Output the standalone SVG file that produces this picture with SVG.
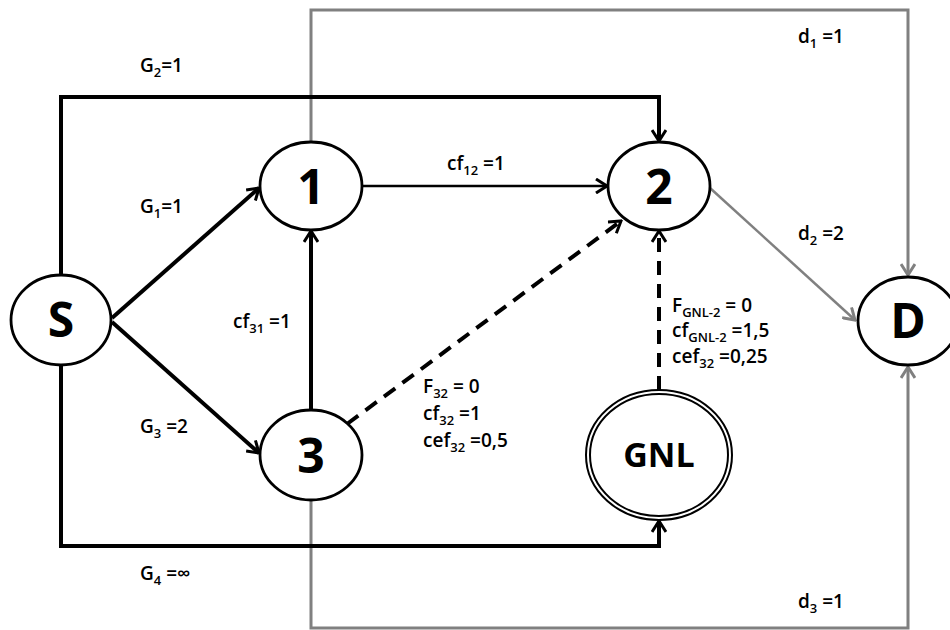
<svg xmlns="http://www.w3.org/2000/svg" width="950" height="630" viewBox="0 0 950 630">
<style>
.node{fill:#fff;stroke:#000;stroke-width:2.8}
.gnl{fill:none;stroke:#000;stroke-width:2}
.nl{font-family:"Open Sans","Liberation Sans",sans-serif;font-weight:700;font-size:48px;fill:#000;text-anchor:middle}
.lb{font-family:"Open Sans","Liberation Sans",sans-serif;font-weight:600;font-size:19px;fill:#000}
.sb{font-size:13px}
.blk{fill:none;stroke:#000;stroke-width:4;marker-end:url(#ab)}
.thin{fill:none;stroke:#000;stroke-width:2.5;marker-end:url(#ab)}
.dash{fill:none;stroke:#000;stroke-width:4;stroke-dasharray:14 9;marker-end:url(#ab)}
.gry{fill:none;stroke:#808080;stroke-width:3;marker-end:url(#ag)}
.gthin{fill:none;stroke:#808080;stroke-width:2.5;marker-end:url(#ag)}
</style>
<defs>
<marker id="ab" markerUnits="userSpaceOnUse" viewBox="0 0 14 16" refX="12" refY="8" markerWidth="14" markerHeight="16" orient="auto">
<path d="M1,1 L12,8 L1,15" fill="none" stroke="#000" stroke-width="3"/>
</marker>
<marker id="ag" markerUnits="userSpaceOnUse" viewBox="0 0 14 16" refX="12" refY="8" markerWidth="14" markerHeight="16" orient="auto">
<path d="M1,1 L12,8 L1,15" fill="none" stroke="#808080" stroke-width="3"/>
</marker>
</defs>
<rect width="950" height="630" fill="#fff"/>
<g id="connectors">
<path class="gry" d="M311,142 V10 H908 V275"/>
<path class="gry" d="M311,500 V628 H908 V367"/>
<path class="gthin" d="M710,188 L855,320"/>
<path class="blk" d="M61,275 V97 H659 V141"/>
<path class="blk" d="M61,365 V546 H659 V521"/>
<path class="blk" d="M112,318 L259,188"/>
<path class="blk" d="M112,322 L259,453"/>
<path class="blk" d="M311,410 V231"/>
<path class="thin" d="M362,186 H607"/>
<path class="dash" d="M347,424 L621,221"/>
<path class="dash" d="M659,390 V231"/>
</g>
<g id="node-S"><ellipse class="node" cx="61" cy="320" rx="50" ry="45"/><text class="nl" x="61" y="337">S</text></g>
<g id="node-1"><ellipse class="node" cx="311" cy="186" rx="51" ry="44"/><text class="nl" x="311" y="204">1</text></g>
<g id="node-2"><ellipse class="node" cx="659" cy="186" rx="51" ry="44"/><text class="nl" x="659" y="204">2</text></g>
<g id="node-3"><ellipse class="node" cx="311" cy="455" rx="51" ry="45"/><text class="nl" x="311" y="473">3</text></g>
<g id="node-D"><ellipse class="node" cx="908" cy="321" rx="50" ry="44"/><text class="nl" x="908" y="338">D</text></g>
<g id="node-GNL"><ellipse class="gnl" cx="659" cy="455" rx="73" ry="65"/><ellipse class="gnl" cx="659" cy="455" rx="69" ry="61"/><text class="nl" x="659" y="467" style="font-size:34px">GNL</text></g>
<g id="labels">
<text class="lb" x="140" y="72">G<tspan class="sb" dy="5">2</tspan><tspan dy="-5">=1</tspan></text>
<text class="lb" x="140" y="213">G<tspan class="sb" dy="5">1</tspan><tspan dy="-5">=1</tspan></text>
<text class="lb" x="140" y="433">G<tspan class="sb" dy="5">3</tspan><tspan dy="-5"> =2</tspan></text>
<text class="lb" x="140" y="580">G<tspan class="sb" dy="5">4</tspan><tspan dy="-5"> =∞</tspan></text>
<text class="lb" x="447" y="170">cf<tspan class="sb" dy="5">12</tspan><tspan dy="-5"> =1</tspan></text>
<text class="lb" x="233" y="328">cf<tspan class="sb" dy="5">31</tspan><tspan dy="-5"> =1</tspan></text>
<text class="lb" x="798" y="43">d<tspan class="sb" dy="5">1</tspan><tspan dy="-5"> =1</tspan></text>
<text class="lb" x="798" y="240">d<tspan class="sb" dy="5">2</tspan><tspan dy="-5"> =2</tspan></text>
<text class="lb" x="798" y="608">d<tspan class="sb" dy="5">3</tspan><tspan dy="-5"> =1</tspan></text>
<text class="lb" x="423" y="393">F<tspan class="sb" dy="5">32</tspan><tspan dy="-5"> = 0</tspan></text>
<text class="lb" x="423" y="420">cf<tspan class="sb" dy="5">32</tspan><tspan dy="-5"> =1</tspan></text>
<text class="lb" x="423" y="447">cef<tspan class="sb" dy="5">32</tspan><tspan dy="-5"> =0,5</tspan></text>
<text class="lb" x="672" y="312">F<tspan class="sb" dy="5">GNL-2</tspan><tspan dy="-5"> = 0</tspan></text>
<text class="lb" x="672" y="337">cf<tspan class="sb" dy="5">GNL-2</tspan><tspan dy="-5"> =1,5</tspan></text>
<text class="lb" x="672" y="363">cef<tspan class="sb" dy="5">32</tspan><tspan dy="-5"> =0,25</tspan></text>
</g>
</svg>
